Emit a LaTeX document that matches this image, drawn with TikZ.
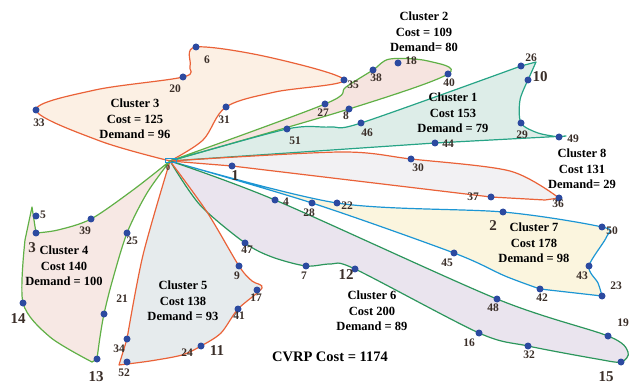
\documentclass[tikz,border=0pt]{standalone}
\usepackage{fontspec}
\setmainfont{Liberation Serif}
\definecolor{dotblue}{RGB}{44,74,160}
\definecolor{labtext}{RGB}{58,46,40}
\definecolor{lnorange}{RGB}{234,98,56}
\definecolor{lngreen}{RGB}{96,176,70}
\definecolor{lnteal}{RGB}{38,164,134}
\definecolor{lndkgreen}{RGB}{44,150,92}
\definecolor{lncyan}{RGB}{28,150,212}
\definecolor{fillA}{RGB}{221,237,232}
\definecolor{fillB}{RGB}{246,228,224}
\definecolor{fillC}{RGB}{252,240,228}
\definecolor{fillD}{RGB}{247,232,228}
\definecolor{fillE}{RGB}{230,235,237}
\definecolor{fillF}{RGB}{234,228,238}
\definecolor{fillG}{RGB}{251,245,222}
\definecolor{fillH}{RGB}{242,241,243}

% closed routes of the eight clusters, all starting and ending at the depot
\newcommand\routeOne{plot[smooth,tension=.5] coordinates {(d) (c51) (k1a) (c46) (c26)} -- (k1b)
  -- plot[smooth,tension=.5] coordinates {(c10) (k1c) (c29) (k1d) (c49)} -- (k1e) -- (c44) -- (d) -- cycle}
\newcommand\routeTwo{plot[smooth,tension=.55] coordinates {(d) (c27) (k2a) (c38) (k2b) (k2c) (c40) (c8) (d)} -- cycle}
\newcommand\routeThree{plot[smooth,tension=.55] coordinates {(d) (k3a) (c33) (k3b) (c20) (k3c) (c6) (k3d) (c35) (k3e) (c31) (k3f) (d)} -- cycle}
\newcommand\routeFour{plot[smooth,tension=.5] coordinates {(d) (k4a) (c39) (k4b) (c3)} -- (k4c)
  -- plot[smooth,tension=.5] coordinates {(k4d) (c14) (k4e) (k4f)}
  -- plot[smooth,tension=.5] coordinates {(c13) (k4g) (c21) (k4h) (c25) (k4i) (d)} -- cycle}
\newcommand\routeFive{plot[smooth,tension=.5] coordinates {(d) (k5a) (c9) (k5b) (k5c) (c41) (k5d) (c11) (k5e) (k5f) (k5g)}
  -- plot[smooth,tension=.5] coordinates {(c34) (k5h) (d)} -- cycle}
\newcommand\routeSix{plot[smooth,tension=.5] coordinates {(d) (c4) (c48) (c19) (k6a) (c15) (k6b) (c32) (c16) (c12) (k6c) (c7) (k6d) (c47) (k6e) (d)} -- cycle}
\newcommand\routeSeven{plot[smooth,tension=.5] coordinates {(d) (c22) (c2) (c50) (k7b) (c43) (k7c) (c23)}
  -- plot[smooth,tension=.5] coordinates {(c42) (k7e) (c45) (c28) (d)} -- cycle}
\newcommand\routeEight{plot[smooth,tension=.5] coordinates {(d) (k8a) (c30) (k8b) (c36)} -- (k8c) -- (c37) -- (c1) -- (d) -- cycle}

\begin{document}
\begin{tikzpicture}[x=1pt,y=-1pt,
  route/.style={line width=1.2pt,line join=round},
  cust/.style={circle,fill=dotblue,inner sep=0pt,minimum size=7pt},
  lab/.style={text=labtext,inner sep=0pt,font=\bfseries\fontsize{11.5}{12}\selectfont},
  biglab/.style={text=labtext,inner sep=0pt,font=\bfseries\fontsize{15}{15}\selectfont},
  info/.style={align=center,inner sep=0pt,font=\bfseries\fontsize{12.5}{15.5}\selectfont},
  depotbox/.style={draw=lncyan,line width=1.1pt,minimum width=11pt,minimum height=4pt,inner sep=0pt}]
\useasboundingbox (0,0) rectangle (630,385);

% depot and customers
\coordinate (d) at (170,161);
\coordinate (c1) at (232,166);  \coordinate (c2) at (503,212);  \coordinate (c3) at (36,233);
\coordinate (c4) at (275,200);  \coordinate (c5) at (36,216);   \coordinate (c6) at (196,47);
\coordinate (c7) at (306,266);  \coordinate (c8) at (349,109);  \coordinate (c9) at (239,266);
\coordinate (c10) at (528,80);  \coordinate (c11) at (201,346); \coordinate (c12) at (355,269);
\coordinate (c13) at (97,359);  \coordinate (c14) at (23,303);  \coordinate (c15) at (621,362);
\coordinate (c16) at (479,333); \coordinate (c17) at (257,290); \coordinate (c18) at (398,63);
\coordinate (c19) at (608,336); \coordinate (c20) at (183,77);  \coordinate (c21) at (104,314);
\coordinate (c22) at (337,203); \coordinate (c23) at (602,296); \coordinate (c25) at (127,233);
\coordinate (c26) at (521,66);  \coordinate (c27) at (325,104); \coordinate (c28) at (312,203);
\coordinate (c29) at (521,123); \coordinate (c30) at (411,159); \coordinate (c31) at (226,107);
\coordinate (c32) at (528,346); \coordinate (c33) at (36,110);  \coordinate (c34) at (127,339);
\coordinate (c35) at (344,80);  \coordinate (c36) at (559,198); \coordinate (c37) at (491,197);
\coordinate (c38) at (373,70);  \coordinate (c39) at (91,219);  \coordinate (c40) at (448,74);
\coordinate (c41) at (238,309); \coordinate (c42) at (540,289); \coordinate (c43) at (589,266);
\coordinate (c44) at (435,143); \coordinate (c45) at (454,253); \coordinate (c46) at (361,123);
\coordinate (c47) at (245,243); \coordinate (c48) at (497,299); \coordinate (c49) at (559,137);
\coordinate (c50) at (602,227); \coordinate (c51) at (287,129); \coordinate (c52) at (127,362);

% shaping points of the route curves
\coordinate (k1a) at (330,127); \coordinate (k1b) at (536,62);  \coordinate (k1c) at (520,100);
\coordinate (k1d) at (538,133); \coordinate (k1e) at (566,136);
\coordinate (k2a) at (346,87);  \coordinate (k2b) at (390,59);  \coordinate (k2c) at (428,61);
\coordinate (k3a) at (100,141); \coordinate (k3b) at (95,90);   \coordinate (k3c) at (190,66);
\coordinate (k3d) at (268,57);  \coordinate (k3e) at (275,92);  \coordinate (k3f) at (203,140);
\coordinate (k4a) at (133,190); \coordinate (k4b) at (58,230);  \coordinate (k4c) at (32,207);
\coordinate (k4d) at (25,240);  \coordinate (k4e) at (50,337);  \coordinate (k4f) at (92,362);
\coordinate (k4g) at (100,337); \coordinate (k4h) at (112,282); \coordinate (k4i) at (147,193);
\coordinate (k5a) at (207,212); \coordinate (k5b) at (252,281); \coordinate (k5c) at (262,288);
\coordinate (k5d) at (221,333); \coordinate (k5e) at (182,355); \coordinate (k5f) at (150,361);
\coordinate (k5g) at (119,365); \coordinate (k5h) at (143,255);
\coordinate (k6a) at (628,352); \coordinate (k6b) at (597,359); \coordinate (k6c) at (331,264);
\coordinate (k6d) at (272,257); \coordinate (k6e) at (200,205);
\coordinate (k7b) at (607,236); \coordinate (k7c) at (598,283); \coordinate (k7e) at (505,276);
\coordinate (k8a) at (340,152); \coordinate (k8b) at (510,171); \coordinate (k8c) at (545,200);

% cluster areas
\path[fill=fillC] \routeThree;
\path[fill=fillB] \routeTwo;
\path[fill=fillA] \routeOne;
\path[fill=fillH] \routeEight;
\path[fill=fillG] \routeSeven;
\path[fill=fillF] \routeSix;
\path[fill=fillE] \routeFive;
\path[fill=fillD] \routeFour;

% route outlines
\draw[route,lnorange] \routeThree;
\draw[route,lngreen] \routeTwo;
\draw[route,lnteal] \routeOne;
\draw[route,lnorange] \routeEight;
\draw[route,lncyan] \routeSeven;
\draw[route,lndkgreen] \routeSix;
\draw[route,lnorange] \routeFive;
\draw[route,lngreen] \routeFour;

% depot
\node[depotbox] (dep) at (171,160.5) {};
\node[text=labtext,inner sep=0pt,font=\bfseries\fontsize{8}{8}\selectfont] (t0) at (168,168) {0};

% customer dots
\foreach \i in {1,...,23,25,26,...,52} \node[cust] (m\i) at (c\i) {};

% customer numbers
\node[biglab] (t1) at (235,176) {1};
\node[biglab] (t2) at (493,226) {2};
\node[biglab] (t3) at (32,248) {3};
\node[lab] (t4) at (286,202) {4};
\node[lab] (t5) at (43,215) {5};
\node[lab] (t6) at (207,60) {6};
\node[lab] (t7) at (304,276) {7};
\node[lab] (t8) at (346,116) {8};
\node[lab] (t9) at (237,276) {9};
\node[biglab] (t10) at (540,77) {10};
\node[biglab] (t11) at (217,351) {11};
\node[biglab] (t12) at (346,275) {12};
\node[biglab] (t13) at (96,377) {13};
\node[biglab] (t14) at (18,319) {14};
\node[biglab] (t15) at (606,377) {15};
\node[lab] (t16) at (469,343) {16};
\node[lab] (t17) at (256,298) {17};
\node[lab] (t18) at (411,61) {18};
\node[lab] (t19) at (623,323) {19};
\node[lab] (t20) at (175,89) {20};
\node[lab] (t21) at (122,299) {21};
\node[lab] (t22) at (347,206) {22};
\node[lab] (t23) at (616,286) {23};
\node[lab] (t24) at (187,353) {24};
\node[lab] (t25) at (132,241) {25};
\node[lab] (t26) at (531,58) {26};
\node[lab] (t27) at (323,113) {27};
\node[lab] (t28) at (309,213) {28};
\node[lab] (t29) at (522,135) {29};
\node[lab] (t30) at (418,168) {30};
\node[lab] (t31) at (224,120) {31};
\node[lab] (t32) at (529,355) {32};
\node[lab] (t33) at (39,123) {33};
\node[lab] (t34) at (119,349) {34};
\node[lab] (t35) at (353,85) {35};
\node[lab] (t36) at (558,204) {36};
\node[lab] (t37) at (473,197) {37};
\node[lab] (t38) at (376,78) {38};
\node[lab] (t39) at (85,231) {39};
\node[lab] (t40) at (449,83) {40};
\node[lab] (t41) at (239,316) {41};
\node[lab] (t42) at (542,298) {42};
\node[lab] (t43) at (582,276) {43};
\node[lab] (t44) at (448,144) {44};
\node[lab] (t45) at (447,263) {45};
\node[lab] (t46) at (367,133) {46};
\node[lab] (t47) at (247,250) {47};
\node[lab] (t48) at (493,308) {48};
\node[lab] (t49) at (573,139) {49};
\node[lab] (t50) at (612,231) {50};
\node[lab] (t51) at (295,141) {51};
\node[lab] (t52) at (124,373) {52};

% cluster summaries
\node[info] (i1) at (453,113) {Cluster 1\\Cost 153\\Demand = 79};
\node[info] (i2) at (424,32) {Cluster 2\\Cost = 109\\Demand= 80};
\node[info] (i3) at (135,119) {Cluster 3\\Cost = 125\\Demand = 96};
\node[info] (i4) at (64,266) {Cluster 4\\Cost 140\\Demand = 100};
\node[info] (i5) at (183,301) {Cluster 5\\Cost 138\\Demand = 93};
\node[info] (i6) at (372,311) {Cluster 6\\Cost 200\\Demand = 89};
\node[info] (i7) at (534,243) {Cluster 7\\Cost 178\\Demand = 98};
\node[info] (i8) at (582,169) {Cluster 8\\Cost 131\\Demand= 29};
\node[inner sep=0pt,font=\bfseries\fontsize{14.5}{15}\selectfont] (total) at (330,357) {CVRP Cost = 1174};
\end{tikzpicture}
\end{document}
